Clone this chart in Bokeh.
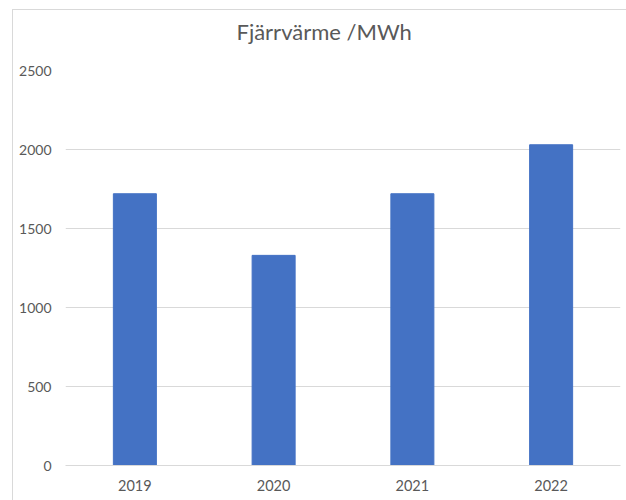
from bokeh.plotting import figure
from bokeh.models import FixedTicker, Title
from bokeh.embed import file_html
from bokeh.resources import INLINE

years = ["2019", "2020", "2021", "2022"]
values = [1720, 1330, 1720, 2030]
y_ticks = [0, 500, 1000, 1500, 2000, 2500]
title_text = "Fjärrvärme /MWh"

FONT = "Lato"
TEXT = "#595959"
GRID = "#d9d9d9"

p = figure(x_range=years, y_range=(0, 2500), width=626, height=500,
           output_backend="svg", toolbar_location=None,
           min_border_left=65, min_border_right=6, min_border_top=70, min_border_bottom=35)
p.border_fill_color = None
p.styles = {"box-shadow": "inset 12px 9px 0 0 #ffffff, inset 13px 10px 0 0 #d9d9d9",
            "background-color": "#ffffff"}

p.vbar(x=years, top=values, width=0.31, color="#4472C4")

# spacer panel between the plot area and the title
spacer = Title(text=" ", text_font=FONT, text_font_size="2px", standoff=22)
p.add_layout(spacer, "above")

p.title.text = title_text
p.title.align = "left"
p.title.offset = 171
p.title.vertical_align = "bottom"
p.title.standoff = 0
p.title.text_font = FONT
p.title.text_font_size = "22px"
p.title.text_font_style = "normal"
p.title.text_color = TEXT

p.x_range.range_padding = 0
p.outline_line_color = None
p.xgrid.grid_line_color = None
p.ygrid.grid_line_color = GRID
p.ygrid.grid_line_width = 1

p.yaxis.ticker = FixedTicker(ticks=y_ticks)
p.yaxis.axis_line_color = None
p.yaxis.major_tick_line_color = None
p.yaxis.minor_tick_line_color = None
p.yaxis.major_label_text_font = FONT
p.yaxis.major_label_text_font_size = "14px"
p.yaxis.major_label_text_color = TEXT
p.yaxis.major_label_standoff = 8

p.xaxis.axis_line_color = GRID
p.xaxis.major_tick_line_color = None
p.xaxis.minor_tick_line_color = None
p.xaxis.major_label_text_font = FONT
p.xaxis.major_label_text_font_size = "14.5px"
p.xaxis.major_label_text_color = TEXT
p.xaxis.major_label_standoff = 8

open("out.html", "w").write(file_html(p, INLINE))
